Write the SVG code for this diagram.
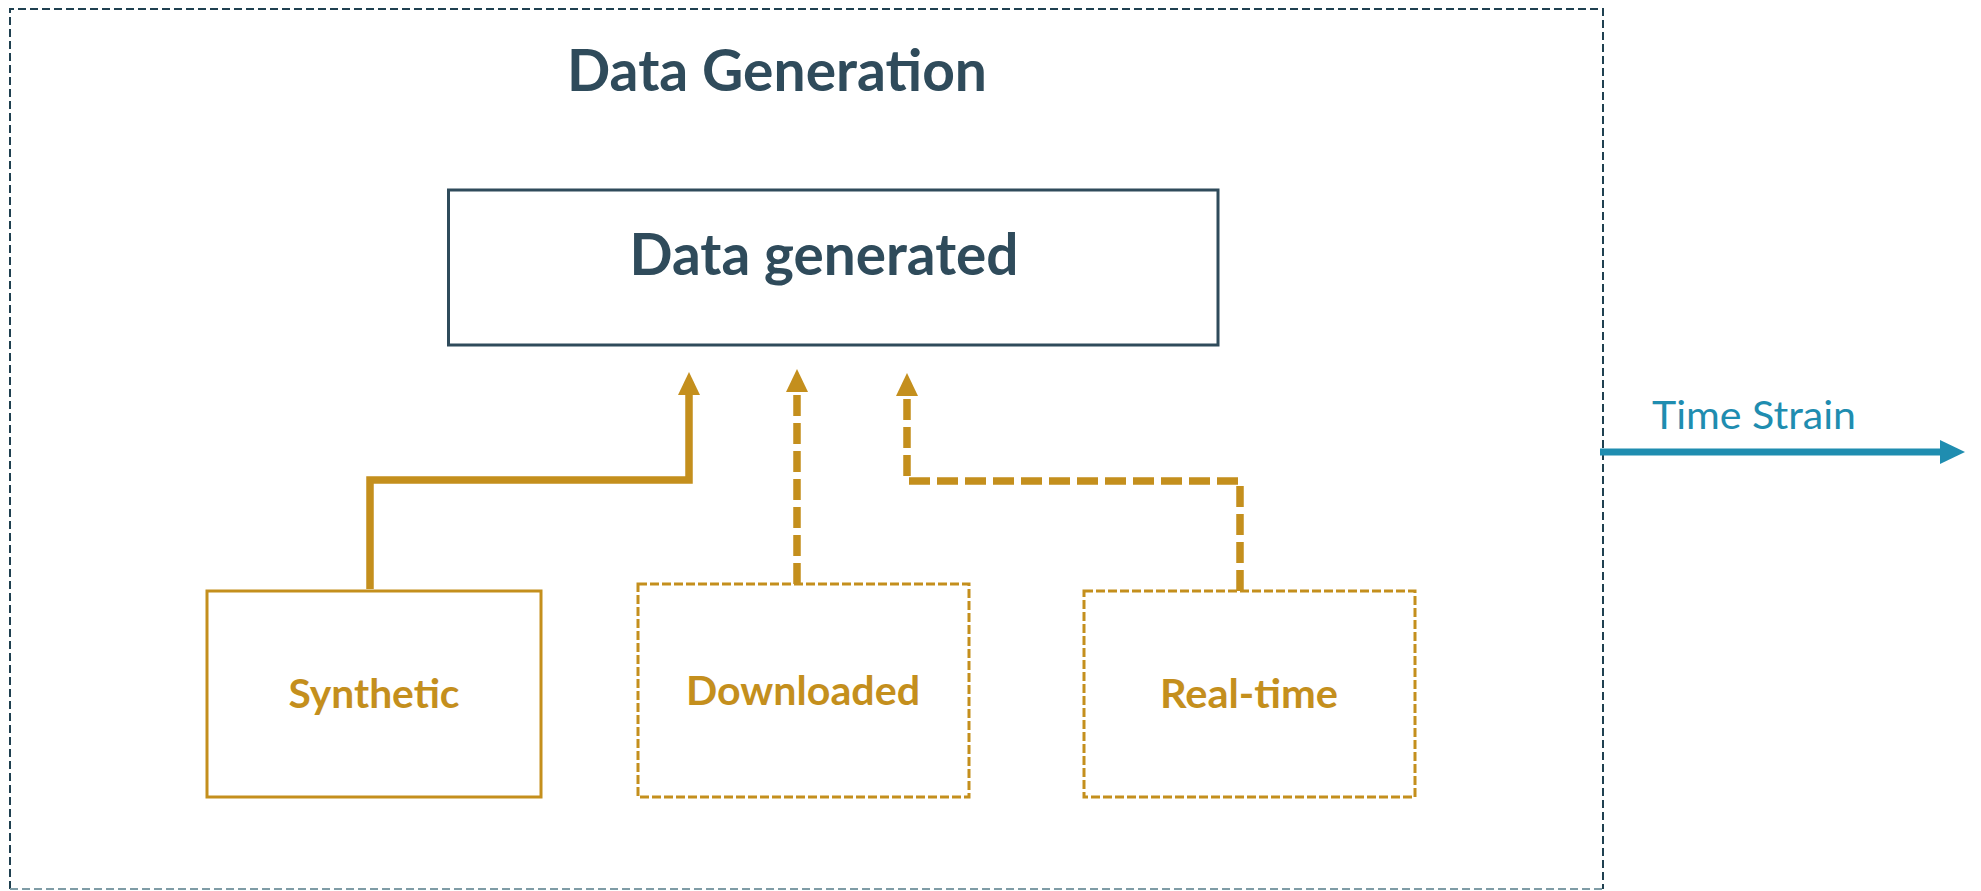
<svg xmlns="http://www.w3.org/2000/svg" width="1981" height="891" viewBox="0 0 1981 891">
  <style>
    .gold { fill: none; stroke: #c48f1d; }
    .box-solid { stroke-width: 3; }
    .box-dash { stroke-width: 3; stroke-dasharray: 9 3; }
    .conn { stroke-width: 7.5; fill: none; stroke: #c48f1d; }
    .conn-dash { stroke-dasharray: 21 7; }
    .lbl { font-family: Lato, "Open Sans", "Liberation Sans", sans-serif; font-weight: bold; fill: #c48f1d; font-size: 40px; text-anchor: middle; }
    .dark { font-family: Lato, "Open Sans", "Liberation Sans", sans-serif; font-weight: bold; fill: #2f4b5b; text-anchor: middle; }
    .outer { stroke: #1f4050; stroke-width: 2; stroke-dasharray: 8 4; fill: none; }
    .outer-b { stroke: #7f9ca6; stroke-width: 2; stroke-dasharray: 8 4; fill: none; }
  </style>
  <defs>
    <marker id="ahGold" markerUnits="userSpaceOnUse" markerWidth="24" markerHeight="24" refX="0" refY="11" orient="auto" viewBox="0 0 24 22">
      <path d="M0,0 L23,11 L0,22 z" fill="#c48f1d"/>
    </marker>
    <marker id="ahBlue" markerUnits="userSpaceOnUse" markerWidth="26" markerHeight="26" refX="0" refY="12" orient="auto" viewBox="0 0 26 24">
      <path d="M0,0 L25,12 L0,24 z" fill="#1f8db0"/>
    </marker>
  </defs>
  <rect width="1981" height="891" fill="#ffffff"/>

  <g id="container">
    <path class="outer" d="M10,889 L10,9 L1603,9 L1603,889"/>
    <path class="outer-b" d="M10,889 L1603,889"/>
    <text class="dark" x="777" y="91" font-size="57" textLength="420" lengthAdjust="spacingAndGlyphs">Data Generation</text>
  </g>

  <g id="data-generated">
    <rect x="448.5" y="190" width="769.5" height="155" fill="#ffffff" stroke="#2f4b5b" stroke-width="3"/>
    <text class="dark" x="824" y="275" font-size="58" textLength="389" lengthAdjust="spacingAndGlyphs">Data generated</text>
  </g>

  <g id="synthetic">
    <rect class="gold box-solid" x="207" y="591" width="334" height="206"/>
    <text class="lbl" x="374" y="708" textLength="171" lengthAdjust="spacingAndGlyphs">Synthetic</text>
  </g>

  <g id="downloaded">
    <rect class="gold box-dash" x="638" y="584" width="331" height="213"/>
    <text class="lbl" x="803" y="705" textLength="234" lengthAdjust="spacingAndGlyphs">Downloaded</text>
  </g>

  <g id="real-time">
    <rect class="gold box-dash" x="1084" y="591" width="331" height="206"/>
    <text class="lbl" x="1249" y="708" textLength="178" lengthAdjust="spacingAndGlyphs">Real-time</text>
  </g>

  <g id="time-strain">
    <text x="1754" y="429" font-family="Lato, 'Open Sans', 'Liberation Sans', sans-serif" font-size="39" fill="#1f8db0" text-anchor="middle" textLength="204" lengthAdjust="spacingAndGlyphs">Time Strain</text>
  </g>

  <g id="connectors">
    <path class="conn" d="M370,589 L370,480 L689,480 L689,395" marker-end="url(#ahGold)"/>
    <path class="conn conn-dash" d="M797,584 L797,392" marker-end="url(#ahGold)"/>
    <path class="conn conn-dash" d="M1240,591 L1240,481 L907,481 L907,396" marker-end="url(#ahGold)"/>
    <path d="M1600,452 L1940,452" stroke="#1f8db0" stroke-width="7" fill="none" marker-end="url(#ahBlue)"/>
  </g>
</svg>
